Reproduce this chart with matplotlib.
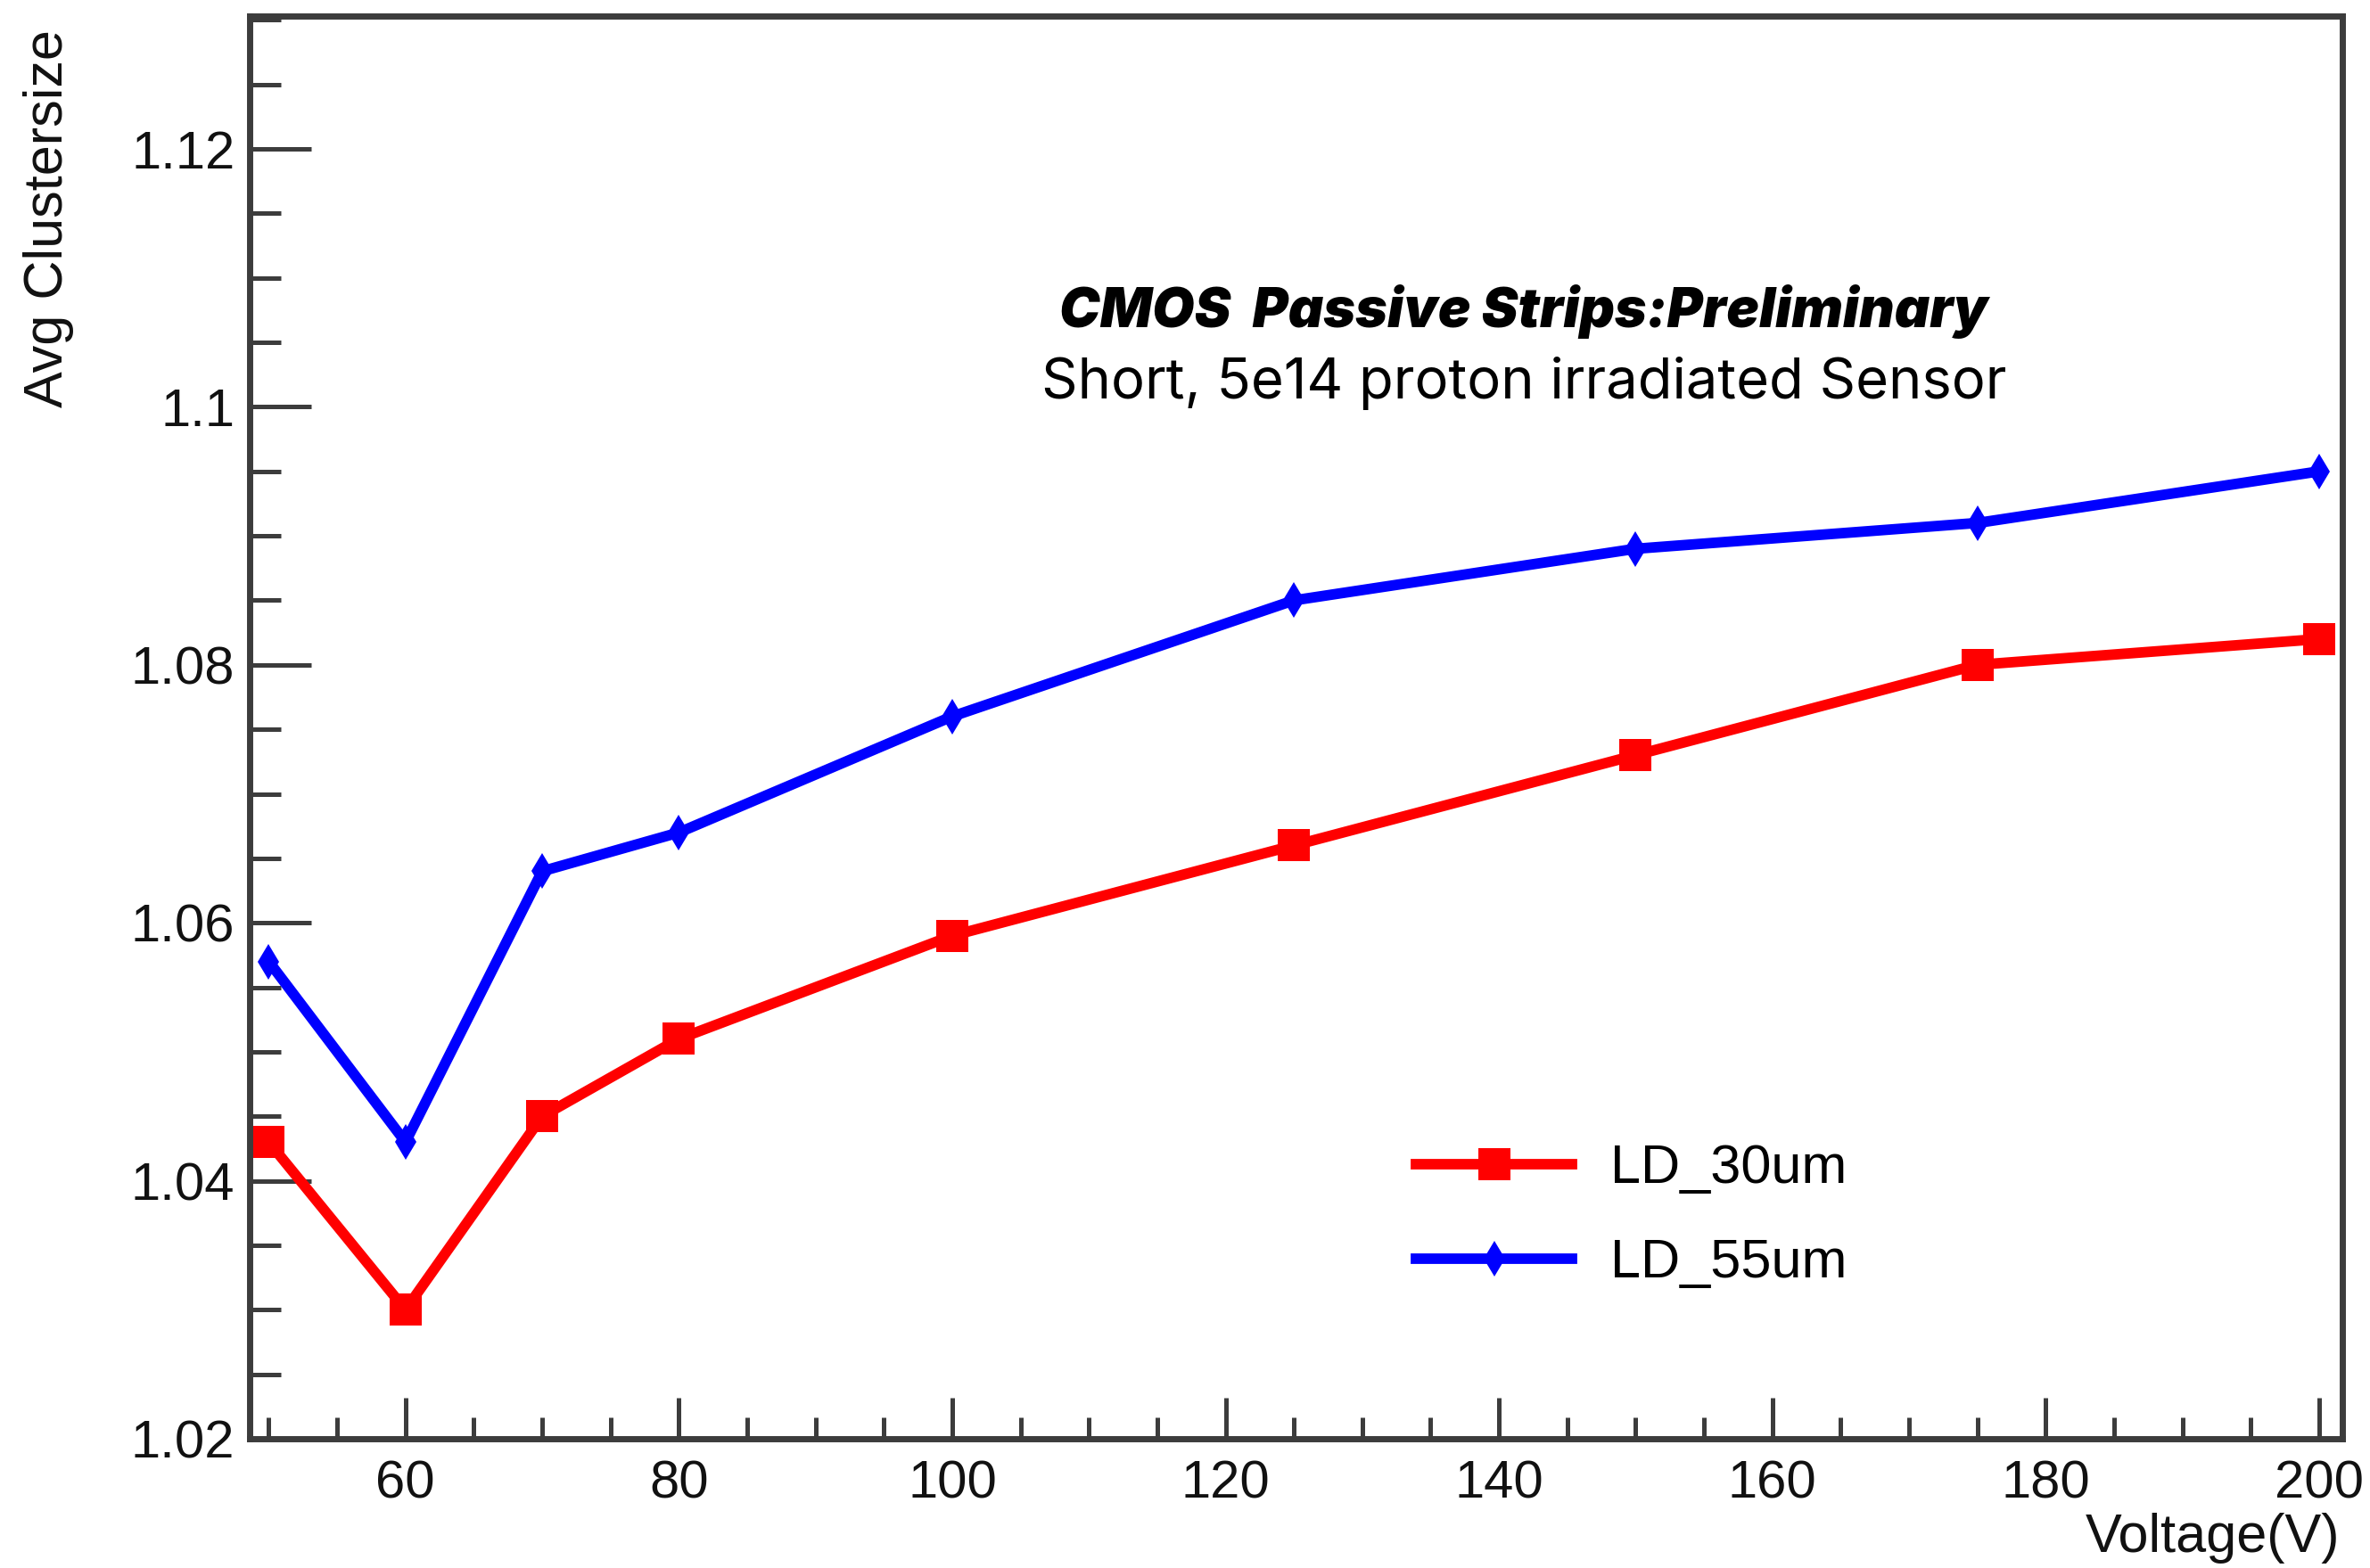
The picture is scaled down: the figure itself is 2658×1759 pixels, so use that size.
import numpy as np
import matplotlib
matplotlib.use("Agg")
import matplotlib.pyplot as plt
from matplotlib.ticker import MultipleLocator, FixedLocator

# ------------------ Data ------------------
voltage = [50, 60, 70, 80, 100, 125, 150, 175, 200]
clus_30um = [1.043, 1.030, 1.045, 1.051, 1.059, 1.066, 1.073, 1.080, 1.082]
clus_55um = [1.057, 1.043, 1.064, 1.067, 1.076, 1.085, 1.089, 1.091, 1.095]
x_ticks = [60, 80, 100, 120, 140, 160, 180, 200]
y_ticks = [1.02, 1.04, 1.06, 1.08, 1.10, 1.12]
y_tick_labels = ["1.02", "1.04", "1.06", "1.08", "1.1", "1.12"]

plt.rcParams['font.family'] = ['Liberation Sans', 'DejaVu Sans']
frame_col = '#3c3c3c'

W, H = 2658, 1759
fig = plt.figure(figsize=(W / 100, H / 100), dpi=100)
ax = fig.add_axes([280 / W, 1 - 1614 / H, (2627 - 280) / W, (1614 - 18) / H])

# Two graphs, ROOT style: thick lines with square / diamond markers
ax.plot(voltage, clus_30um, color='#ff0000', lw=8.5, marker='s', ms=26,
        mew=0, label='LD_30um', solid_joinstyle='miter')
ax.plot(voltage, clus_55um, color='#0000ff', lw=8.5, marker='d', ms=20,
        mew=0, label='LD_55um', solid_joinstyle='miter')

ax.set_xlim(48.6, 201.7)
ax.set_ylim(1.02, 1.1303)

ax.xaxis.set_major_locator(FixedLocator(x_ticks))
ax.xaxis.set_minor_locator(MultipleLocator(5))
ax.yaxis.set_major_locator(FixedLocator(y_ticks))
ax.set_yticklabels(y_tick_labels)
ax.yaxis.set_minor_locator(MultipleLocator(0.005))

# Ticks only on the left and bottom, pointing inwards
ax.tick_params(axis='both', which='both', direction='in', colors=frame_col,
               labelcolor='#111111', labelsize=43, width=3.6,
               top=False, right=False)
ax.tick_params(axis='y', which='major', length=50, pad=12)
ax.tick_params(axis='y', which='minor', length=25)
ax.tick_params(axis='x', which='major', length=33, pad=17)
ax.tick_params(axis='x', which='minor', length=17)

for sp in ax.spines.values():
    sp.set_color(frame_col)
    sp.set_linewidth(5)

# Axis titles placed at the axis ends
fig.text(55 / W, 1 - 33 / H, 'Avg Clustersize', rotation=90, ha='center',
         va='top', fontsize=44, color='#111111')
fig.text(2624 / W, 1 - 1741 / H, 'Voltage(V)', ha='right', va='baseline',
         fontsize=44, color='#111111')

# Annotation
fig.text(1709 / W, 1 - 367 / H, 'CMOS  Passive Strips:Preliminary',
         ha='center', va='baseline', fontsize=44, family=['Inter', 'DejaVu Sans'],
         fontweight='black', fontstyle='italic', color='black')
fig.text(1709 / W, 1 - 447 / H, 'Short, 5e14 proton irradiated Sensor',
         ha='center', va='baseline', fontsize=45.5, family=['Inter', 'DejaVu Sans'],
         color='black')

ax.legend(loc='center left', bbox_to_anchor=(1588 / W, 1 - 1364.5 / H),
          bbox_transform=fig.transFigure, frameon=False, fontsize=44,
          handlelength=2.87, handletextpad=0.69, labelspacing=0.8,
          borderpad=0, borderaxespad=0, numpoints=1)

fig.savefig('out.png', dpi=100, facecolor='white')
